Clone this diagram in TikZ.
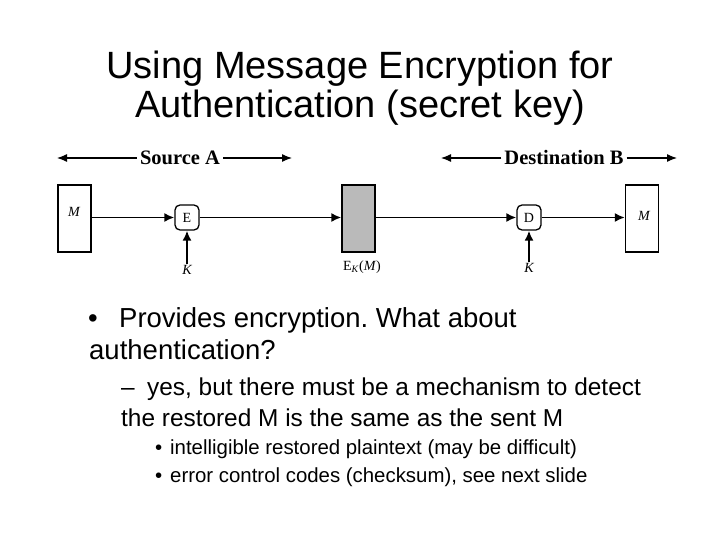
\documentclass[tikz,border=0pt]{standalone}
\usepackage{fontspec}
\setmainfont{Liberation Sans}
\newfontfamily\seriffont{Liberation Serif}
\usetikzlibrary{arrows.meta}
\frenchspacing
\begin{document}
\begin{tikzpicture}[x=1pt,y=-1pt,
  box/.style={draw, line width=1.3pt, minimum width=33pt, minimum height=67pt, inner sep=0pt},
  op/.style={draw, line width=1.3pt, rounded corners=5pt, minimum width=24pt, minimum height=25pt, inner sep=0pt, font=\seriffont\fontsize{14}{14}\selectfont},
  conn/.style={line width=1.8pt, -{Latex[length=10pt,width=9pt]}},
  span/.style={line width=1.2pt, -{Latex[length=10pt,width=8pt]}},
  hdr/.style={font=\seriffont\bfseries\fontsize{20.5}{20.5}\selectfont, inner sep=3pt, anchor=base},
  lab/.style={font=\seriffont\fontsize{14}{14}\selectfont, inner sep=1pt},
  ilab/.style={font=\seriffont\itshape\fontsize{14}{14}\selectfont, inner sep=1pt},
  title/.style={font=\fontsize{38}{38}\selectfont, anchor=base},
  l1/.style={font=\fontsize{27.5}{27.5}\selectfont, anchor=base west, inner sep=0pt},
  l2/.style={font=\fontsize{24.4}{24.4}\selectfont, anchor=base west, inner sep=0pt},
  l3/.style={font=\fontsize{20.4}{20.4}\selectfont, anchor=base west, inner sep=0pt}]
\useasboundingbox[fill=white] (0,0) rectangle (720,540);
% title
\node[title] (t1) at (360,79) {Using Message Encryption for};
\node[title] (t2) at (360,118) {Authentication (secret key)};
% span headers
\node[hdr] (srcA) at (180,165) {Source A};
\coordinate (sa1) at (57,158);
\coordinate (sa2) at (292,158);
\draw[span] (srcA.west |- sa1) -- (sa1);
\draw[span] (srcA.east |- sa2) -- (sa2);
\node[hdr] (dstB) at (564,165) {Destination B};
\coordinate (db1) at (441,158);
\coordinate (db2) at (677,158);
\draw[span] (dstB.west |- db1) -- (db1);
\draw[span] (dstB.east |- db2) -- (db2);
% boxes
\node[box] (m1) at (74.5,218.5) {};
\node[ilab] (m1l) at (74,212) {M};
\node[box, fill=black!27] (c) at (358.5,218.5) {};
\node[box] (m2) at (642,218.5) {};
\node[ilab] (m2l) at (644,216) {M};
\node[op] (e) at (187,217.5) {E};
\node[op] (d) at (529,217.5) {D};
\node[ilab] (k1) at (187,270) {K};
\node[ilab] (k2) at (529,268) {K};
\node[lab] (ekm) at (362,267) {E\textsubscript{\textit{K}}(\textit{M})};
% connectors
\draw[conn] (m1.east |- e) -- (e);
\draw[conn] (e) -- (c.west |- e);
\draw[conn] (c.east |- d) -- (d);
\draw[conn] (d) -- (m2.west |- d);
\draw[conn] (k1) -- (e);
\draw[conn] (k2) -- (d);
% bullets
\node[l1] (b1) at (88,327) {•};
\node[l1] (b1t) at (119,327) {Provides encryption. What about};
\node[l1] (b1u) at (89,359) {authentication?};
\node[l2] (b2) at (121,395) {–};
\node[l2] (b2t) at (147,395) {yes, but there must be a mechanism to detect};
\node[l2] (b2u) at (121,426) {the restored M is the same as the sent M};
\node[l3] (b3) at (155,454) {•};
\node[l3] (b3t) at (170,454) {intelligible restored plaintext (may be difficult)};
\node[l3] (b4) at (155,482) {•};
\node[l3] (b4t) at (170,482) {error control codes (checksum), see next slide};
\end{tikzpicture}
\end{document}
